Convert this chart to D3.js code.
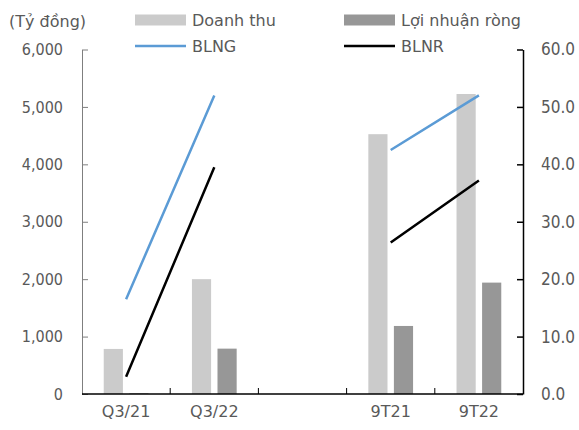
<!DOCTYPE html>
<html>
<head>
<meta charset="utf-8">
<script src="https://cdn.jsdelivr.net/npm/d3@7"></script>
<style>
  body { margin: 0; background: #fff; }
  text { font-family: "DejaVu Sans Condensed", "DejaVu Sans", sans-serif; }
  .wide { font-family: "DejaVu Sans", sans-serif; }
</style>
</head>
<body>
<script>
// values
const categories = ["Q3/21", "Q3/22", "", "9T21", "9T22"];
const doanhThu = [785, 2000, null, 4525, 5225];   // Tỷ đồng
const loiNhuan = [12, 790, null, 1185, 1940];     // Tỷ đồng
const blng = [16.5, 52.0, null, 42.5, 52.0];      // %
const blnr = [3.0, 39.5, null, 26.4, 37.2];       // %
const leftTicks = [0, 1000, 2000, 3000, 4000, 5000, 6000];
const rightTicks = [0, 10, 20, 30, 40, 50, 60];

const width = 579, height = 430;
const marginLeft = 82, marginRight = 56, marginTop = 49.5, marginBottom = 36;
const textColor = "#595959";

const svg = d3.select("body").append("svg")
  .attr("width", width)
  .attr("height", height);

const x0 = d3.scaleBand(categories, [marginLeft, width - marginRight]).padding(0);
const x1 = d3.scaleBand(["dt", "ln"], [0, x0.bandwidth()]).paddingInner(0.25).paddingOuter(0.85);
const yL = d3.scaleLinear([0, 6000], [height - marginBottom, marginTop]);
const yR = d3.scaleLinear([0, 60], [height - marginBottom, marginTop]);

const barColors = { dt: "#cbcbcb", ln: "#979797" };

// bars
const rows = categories.map((c, i) => ({ c, dt: doanhThu[i], ln: loiNhuan[i] }));
svg.append("g")
  .selectAll("g")
  .data(rows)
  .join("g")
  .attr("transform", d => `translate(${x0(d.c)},0)`)
  .selectAll("rect")
  .data(d => ["dt", "ln"].filter(k => d[k] != null).map(k => ({ k, v: d[k] })))
  .join("rect")
  .attr("x", d => x1(d.k))
  .attr("width", x1.bandwidth())
  .attr("y", d => yL(d.v))
  .attr("height", d => yL(0) - yL(d.v))
  .attr("fill", d => barColors[d.k]);

// left axis (gray, inward ticks)
svg.append("g")
  .attr("transform", `translate(${marginLeft},0)`)
  .call(d3.axisLeft(yL).tickValues(leftTicks).tickFormat(d3.format(",")).tickSizeInner(-6).tickSizeOuter(0).tickPadding(19))
  .call(g => g.selectAll(".domain, .tick line").attr("stroke", "#7f7f7f"))
  .call(g => g.selectAll("text").attr("fill", textColor).attr("font-size", 16));

// right axis (black, inward ticks)
svg.append("g")
  .attr("transform", `translate(${width - marginRight},0)`)
  .call(d3.axisRight(yR).tickValues(rightTicks).tickFormat(d3.format(".1f")).tickSizeInner(-6).tickSizeOuter(0).tickPadding(18))
  .call(g => g.selectAll(".domain, .tick line").attr("stroke", "#000").attr("stroke-width", 1.5))
  .call(g => g.selectAll("text").attr("fill", textColor).attr("font-size", 17));

// category axis
const xAxisG = svg.append("g")
  .attr("transform", `translate(0,${height - marginBottom})`);
xAxisG.append("line")
  .attr("x1", marginLeft).attr("x2", width - marginRight)
  .attr("stroke", "#000").attr("stroke-width", 1.5);
xAxisG.selectAll("line.sep")
  .data(categories.slice(1))
  .join("line")
  .attr("class", "sep")
  .attr("x1", d => x0(d)).attr("x2", d => x0(d))
  .attr("y1", 0).attr("y2", -6)
  .attr("stroke", "#000");
xAxisG.selectAll("text")
  .data(categories)
  .join("text")
  .attr("class", "wide")
  .attr("x", d => x0(d) + x0.bandwidth() / 2)
  .attr("y", 23)
  .attr("text-anchor", "middle")
  .attr("fill", textColor)
  .attr("font-size", 16)
  .text(d => d);

// lines
const line = d3.line()
  .defined(d => d.v != null)
  .x(d => x0(d.c) + x0.bandwidth() / 2)
  .y(d => yR(d.v));
const series = [
  { name: "BLNG", values: blng, color: "#5b9bd5" },
  { name: "BLNR", values: blnr, color: "#000000" }
];
svg.append("g")
  .selectAll("path")
  .data(series)
  .join("path")
  .attr("fill", "none")
  .attr("stroke", d => d.color)
  .attr("stroke-width", 2.5)
  .attr("d", d => line(categories.map((c, i) => ({ c, v: d.values[i] }))));

// unit label
svg.append("text")
  .attr("class", "wide")
  .attr("x", 9).attr("y", 27)
  .attr("fill", textColor).attr("font-size", 16)
  .text("(Tỷ đồng)");

// legend
const legend = [
  { label: "Doanh thu", type: "bar", color: barColors.dt, x: 135, y: 20 },
  { label: "Lợi nhuận ròng", type: "bar", color: barColors.ln, x: 344, y: 20 },
  { label: "BLNG", type: "line", color: "#5b9bd5", x: 135, y: 46 },
  { label: "BLNR", type: "line", color: "#000", x: 344, y: 46 }
];
const lg = svg.append("g")
  .selectAll("g")
  .data(legend)
  .join("g")
  .attr("transform", d => `translate(${d.x},${d.y})`);
lg.filter(d => d.type === "bar").append("rect")
  .attr("x", 0).attr("y", -5.5).attr("width", 51).attr("height", 11)
  .attr("fill", d => d.color);
lg.filter(d => d.type === "line").append("line")
  .attr("x1", 0).attr("x2", 51)
  .attr("stroke", d => d.color).attr("stroke-width", 2.5);
lg.append("text")
  .attr("class", "wide")
  .attr("x", 57).attr("dy", "0.36em")
  .attr("fill", textColor).attr("font-size", 16)
  .text(d => d.label);
</script>
</body>
</html>
